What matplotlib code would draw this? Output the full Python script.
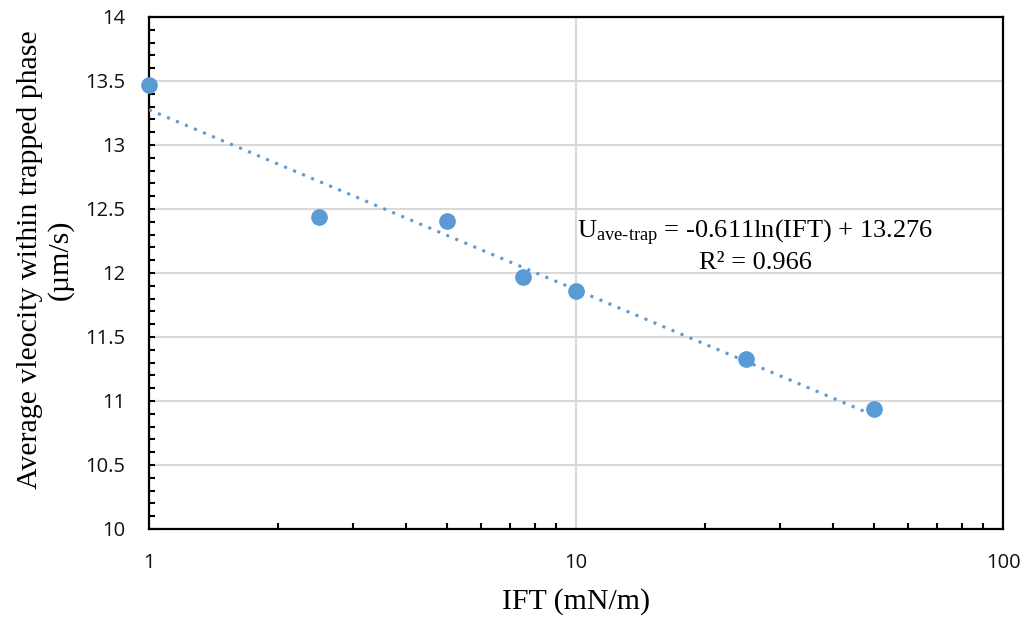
import numpy as np
import matplotlib
matplotlib.use("Agg")
import matplotlib.pyplot as plt
from matplotlib.ticker import LogLocator, MultipleLocator, FixedLocator, FixedFormatter

ift = [1, 2.5, 5, 7.5, 10, 25, 50]
velocity = [13.47, 12.44, 12.41, 11.97, 11.86, 11.33, 10.94]
fit_slope = -0.611
fit_intercept = 13.276
x_ticks = [1, 10, 100]
x_tick_labels = ["1", "10", "100"]
y_ticks = [10, 10.5, 11, 11.5, 12, 12.5, 13, 13.5, 14]
y_tick_labels = ["10", "10.5", "11", "11.5", "12", "12.5", "13", "13.5", "14"]

plt.rcParams['mathtext.fontset'] = 'custom'
plt.rcParams['mathtext.rm'] = 'Liberation Serif'
plt.rcParams['mathtext.it'] = 'Liberation Serif:italic'

blue = '#5B9BD5'
fig = plt.figure(figsize=(10.31, 6.19), dpi=100)
ax = fig.add_axes([149/1031, 1-529/619, (1003-149)/1031, (529-17)/619])

ax.set_xscale('log')
ax.set_xlim(1, 100)
ax.set_ylim(10, 14)

xs = np.linspace(min(ift), max(ift), 200)
ax.plot(xs, fit_slope*np.log(xs) + fit_intercept, linestyle=(0, (1, 2.2)), color=blue, lw=2.2, zorder=3)
ax.plot(ift, velocity, 'o', color=blue, markersize=11, zorder=4, clip_on=False)

ax.xaxis.set_major_locator(FixedLocator(x_ticks))
ax.xaxis.set_major_formatter(FixedFormatter(x_tick_labels))
ax.xaxis.set_minor_locator(LogLocator(base=10, subs=np.arange(2, 10)))
ax.xaxis.set_minor_formatter(plt.NullFormatter())
ax.yaxis.set_major_locator(FixedLocator(y_ticks))
ax.yaxis.set_major_formatter(FixedFormatter(y_tick_labels))
ax.yaxis.set_minor_locator(MultipleLocator(0.1))

ax.grid(True, which='major', color='#D9D9D9', lw=1.5, zorder=0)
ax.set_axisbelow(True)
for s in ax.spines.values():
    s.set_color('black')
    s.set_linewidth(1.6)

ax.tick_params(which='both', direction='in', length=4, width=1.5, color='black')
ax.tick_params(axis='x', which='major', length=0, pad=17)
ax.tick_params(axis='y', which='major', length=4, pad=17)
for lab in ax.get_xticklabels() + ax.get_yticklabels():
    lab.set_fontfamily('Open Sans')
    lab.set_fontsize(14.5)
    lab.set_color('#111111')

ax.set_xlabel('IFT (mN/m)', fontfamily='Liberation Serif', fontsize=21.5, labelpad=11)
ax.set_ylabel('Average vleocity within trapped phase\n(µm/s)', fontfamily='Liberation Serif',
              fontsize=21.5, linespacing=1.2)
ax.yaxis.set_label_coords(-(149-74)/854, (529-260)/512)

fig.text(755/1031, 1-233/619, r'U$_{\mathrm{ave\text{-}trap}}$ = -0.611ln(IFT) + 13.276',
         ha='center', va='center', fontfamily='Liberation Serif', fontsize=19)
fig.text(755/1031, 1-263/619, 'R² = 0.966',
         ha='center', va='center', fontfamily='Liberation Serif', fontsize=19)

fig.savefig('out.png', dpi=100)
